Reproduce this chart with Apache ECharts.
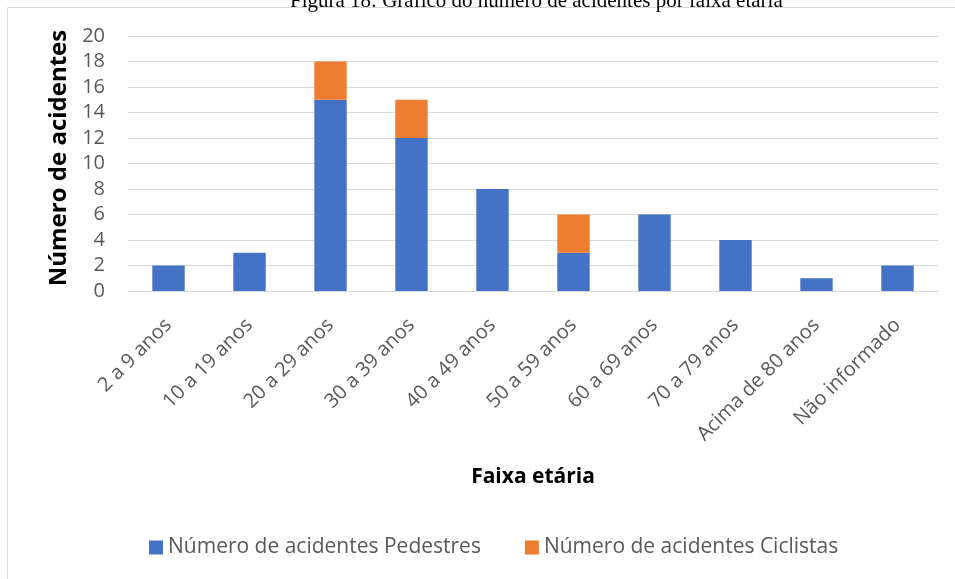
<!DOCTYPE html>
<html>
<head>
<meta charset="utf-8">
<script src="https://cdn.jsdelivr.net/npm/echarts@6/dist/echarts.min.js"></script>
<style>
  html, body { margin: 0; padding: 0; background: #fff; }
  #grafico { width: 955px; height: 579px; }
</style>
</head>
<body>
<div id="grafico"></div>
<script>
var categorias = ['2 a 9 anos', '10 a 19 anos', '20 a 29 anos', '30 a 39 anos', '40 a 49 anos',
  '50 a 59 anos', '60 a 69 anos', '70 a 79 anos', 'Acima de 80 anos', 'Não informado'];
var pedestres = [2, 3, 15, 12, 8, 3, 6, 4, 1, 2];
var ciclistas = [0, 0, 3, 3, 0, 3, 0, 0, 0, 0];
var ticksY = [0, 20, 2];

function drawGrafico () {

  var chartDom = document.getElementById('grafico');
  var myChart = echarts.init(chartDom);
  var option;

  var fonte = 'Open Sans';

  option = {
    animation: false,
    title: {
      text: 'Figura 18: Gráfico do número de acidentes por faixa etária',
      left: 285,
      top: -14,
      textStyle: { fontFamily: 'Liberation Serif', fontWeight: 'normal', fontSize: 21, color: '#000' }
    },
    graphic: [
      {
        type: 'rect',
        shape: { x: 7.5, y: 7.5, width: 960, height: 580 },
        style: { fill: 'none', stroke: '#d9d9d9', lineWidth: 1 }
      }
    ],
    legend: {
      top: 532,
      left: 144,
      itemGap: 44,
      itemWidth: 14,
      itemHeight: 14,
      icon: 'rect',
      textStyle: { fontFamily: fonte, fontSize: 21, color: '#595959' },
      data: ['Número de acidentes Pedestres', 'Número de acidentes Ciclistas']
    },
    grid: {
      left: 128,
      right: 17,
      top: 36,
      bottom: 288
    },
    xAxis: {
      type: 'category',
      data: categorias,
      name: 'Faixa etária',
      nameLocation: 'middle',
      nameGap: 176,
      nameTextStyle: { fontFamily: fonte, fontWeight: 'bold', fontSize: 21, color: '#000' },
      axisLine: { lineStyle: { color: '#d9d9d9' } },
      axisTick: { show: false },
      axisLabel: {
        rotate: 45,
        interval: 0,
        margin: 31,
        fontFamily: fonte,
        fontSize: 20,
        color: '#595959'
      }
    },
    yAxis: {
      type: 'value',
      min: ticksY[0],
      max: ticksY[1],
      interval: ticksY[2],
      name: 'Número de acidentes',
      nameLocation: 'middle',
      nameGap: 55,
      nameTextStyle: { fontFamily: fonte, fontWeight: 'bold', fontSize: 24, color: '#000', padding: [0, 0, 0, 11] },
      axisLine: { show: false },
      axisTick: { show: false },
      axisLabel: { fontFamily: fonte, fontSize: 20, color: '#595959', margin: 23 },
      splitLine: { lineStyle: { color: '#d9d9d9', width: 1 } }
    },
    series: [
      {
        name: 'Número de acidentes Pedestres',
        type: 'bar',
        stack: 'total',
        barWidth: '40%',
        itemStyle: { color: '#4472c4' },
        data: pedestres
      },
      {
        name: 'Número de acidentes Ciclistas',
        type: 'bar',
        stack: 'total',
        barWidth: '40%',
        itemStyle: { color: '#ed7d31' },
        data: ciclistas
      }
    ]
  };

  option && myChart.setOption(option);

}

drawGrafico()
</script>
</body>
</html>
